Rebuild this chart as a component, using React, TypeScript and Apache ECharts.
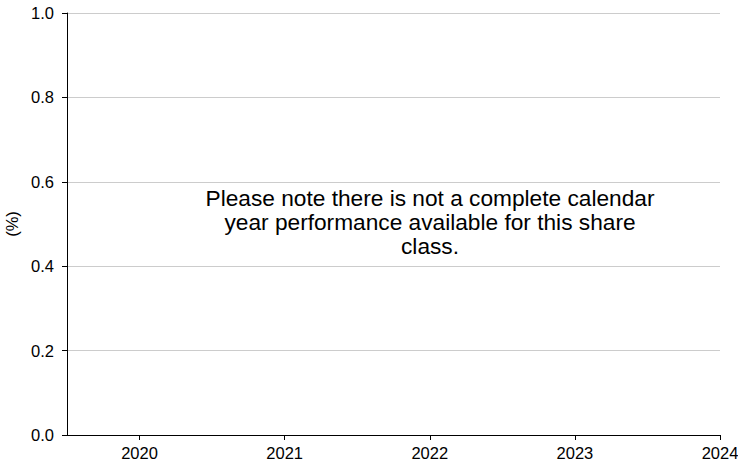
import React, { useEffect, useRef } from "react";
import * as echarts from "echarts";

const years: number[] = [2020, 2021, 2022, 2023, 2024];
const yTicks: number[] = [0, 0.2, 0.4, 0.6, 0.8, 1.0];
const yAxisName = "(%)";
const noteText =
  "Please note there is not a complete calendar\nyear performance available for this share\nclass.";

const FONT = '"Liberation Sans", Arial, Helvetica, sans-serif';

export default function App() {
  const ref = useRef<HTMLDivElement>(null);
  useEffect(() => {
    document.body.style.margin = "0";
    const chart = echarts.init(ref.current!, null, { renderer: "svg" });
    chart.setOption({
      animation: false,
      backgroundColor: "#ffffff",
      textStyle: { fontFamily: FONT },
      grid: {
        left: 67,
        right: 18,
        top: 13,
        bottom: 28,
        containLabel: false,
        outerBoundsMode: "none",
      },
      xAxis: {
        type: "value",
        min: years[0] - 0.5,
        max: years[years.length - 1],
        splitLine: { show: false },
        axisLine: { show: true, lineStyle: { color: "#000", width: 1 } },
        axisTick: {
          show: true,
          length: 5,
          customValues: years,
          lineStyle: { color: "#000", width: 1 },
        },
        axisLabel: {
          show: true,
          customValues: years,
          margin: 9,
          fontSize: 16.5,
          color: "#000",
          fontFamily: FONT,
          formatter: (v: number) => String(Math.round(v)),
        },
      },
      yAxis: {
        type: "value",
        min: yTicks[0],
        max: yTicks[yTicks.length - 1],
        interval: 0.2,
        name: yAxisName,
        nameLocation: "middle",
        nameGap: 43,
        nameRotate: 90,
        nameTextStyle: { fontSize: 16.5, color: "#000", fontFamily: FONT },
        axisLine: { show: true, lineStyle: { color: "#000", width: 1 } },
        axisTick: { show: true, length: 5, lineStyle: { color: "#000", width: 1 } },
        splitLine: { show: true, lineStyle: { color: "#cccccc", width: 1 } },
        axisLabel: {
          margin: 13,
          fontSize: 16.5,
          color: "#000",
          fontFamily: FONT,
          formatter: (v: number) => v.toFixed(1),
        },
      },
      graphic: [
        {
          type: "text",
          x: 430,
          y: 222,
          style: {
            text: noteText,
            align: "center",
            verticalAlign: "middle",
            fontSize: 22.7,
            lineHeight: 24,
            fill: "#000",
            fontFamily: FONT,
          },
        },
      ],
      series: [
        {
          type: "line",
          data: [],
        },
      ],
    });
    return () => chart.dispose();
  }, []);
  return (
    <div
      ref={ref}
      style={{ position: "absolute", left: 0, top: 0, width: 738, height: 463 }}
    />
  );
}
